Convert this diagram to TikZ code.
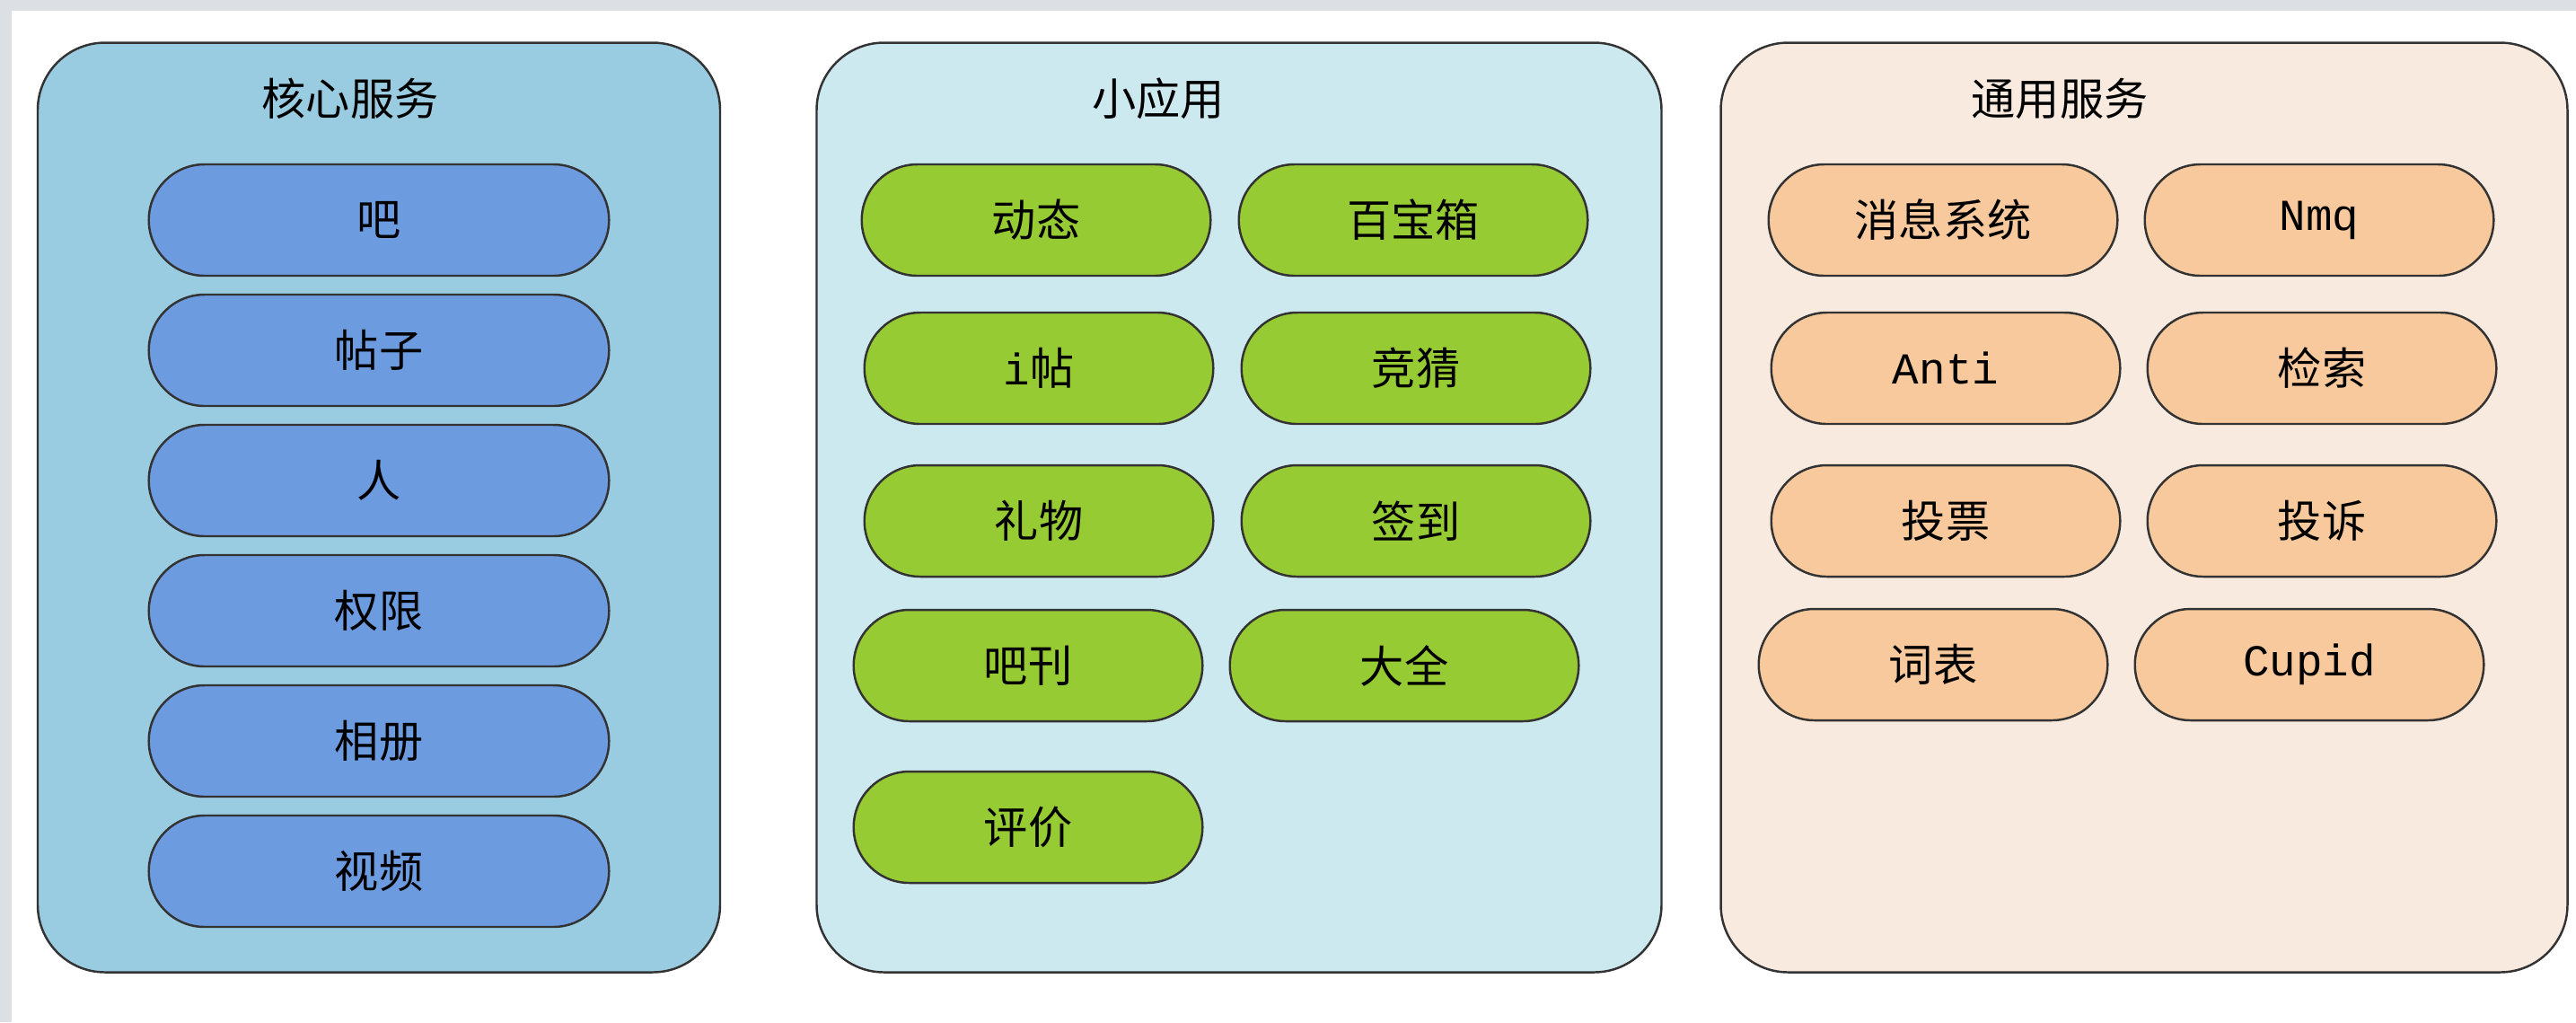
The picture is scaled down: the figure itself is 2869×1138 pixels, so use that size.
\documentclass[tikz,border=0pt]{standalone}
\usepackage{fontspec}
\setmainfont{Noto Sans CJK SC}
\setmonofont{Liberation Mono}
\usetikzlibrary{positioning,shapes.misc}

\definecolor{frame}{HTML}{DCDFE3}
\definecolor{coreback}{HTML}{99CCE0}
\definecolor{appback}{HTML}{CDE9F0}
\definecolor{commonback}{HTML}{F9EADF}
\definecolor{corefill}{HTML}{6C9BE0}
\definecolor{appfill}{HTML}{97CB33}
\definecolor{commonfill}{HTML}{F8C99D}
\definecolor{edge}{HTML}{333333}

\begin{document}
\begin{tikzpicture}[x=0.1mm, y=-0.1mm, node distance=1.45cm]
    \tikzstyle{panel} = [rectangle, draw=edge, line width=0.7pt, rounded corners=0.75cm, minimum height=10.35cm]
    \tikzstyle{title} = [font=\fontsize{14}{16}\selectfont]
    \tikzstyle{pill} = [rounded rectangle, draw=edge, line width=0.7pt, minimum height=1.24cm, font=\fontsize{14}{16}\selectfont]
    \tikzstyle{core} = [pill, fill=corefill, minimum width=5.36cm]
    \tikzstyle{app} = [pill, fill=appfill, minimum width=4.12cm]
    \tikzstyle{common} = [pill, fill=commonfill, minimum width=4.12cm]

    \useasboundingbox (0,0) rectangle (2869,1138);
    \fill [frame] (0,0) rectangle (2869,12);
    \fill [frame] (0,0) rectangle (13,1138);

    % three groups
    \node [panel, fill=coreback, minimum width=7.6cm] (pcore) at (422,565) {};
    \node [panel, fill=appback, minimum width=9.41cm] (papp) at (1380,565) {};
    \node [panel, fill=commonback, minimum width=9.43cm] (pcommon) at (2388,565) {};

    \node [title] (tcore) at (390,110) {核心服务};
    \node [title] (tapp) at (1290,110) {小应用};
    \node [title] (tcommon) at (2294,110) {通用服务};

    % core services
    \node [core] (c1) at (422,245) {吧};
    \node [core, below of=c1] (c2) {帖子};
    \node [core, below of=c2] (c3) {人};
    \node [core, below of=c3] (c4) {权限};
    \node [core, below of=c4] (c5) {相册};
    \node [core, below of=c5] (c6) {视频};

    % small apps
    \node [app] (a1) at (1154,245) {动态};
    \node [app] (a2) at (1574,245) {百宝箱};
    \node [app] (a3) at (1157,410) {\texttt{i}帖};
    \node [app] (a4) at (1577,410) {竞猜};
    \node [app] (a5) at (1157,580) {礼物};
    \node [app] (a6) at (1577,580) {签到};
    \node [app] (a7) at (1145,741) {吧刊};
    \node [app] (a8) at (1564,741) {大全};
    \node [app] (a9) at (1145,921) {评价};

    % common services
    \node [common] (s1) at (2164,245) {消息系统};
    \node [common] (s2) at (2583,245) {\texttt{Nmq}};
    \node [common] (s3) at (2167,410) {\texttt{Anti}};
    \node [common] (s4) at (2586,410) {检索};
    \node [common] (s5) at (2167,580) {投票};
    \node [common] (s6) at (2586,580) {投诉};
    \node [common] (s7) at (2153,740) {词表};
    \node [common] (s8) at (2572,740) {\texttt{Cupid}};
\end{tikzpicture}
\end{document}
